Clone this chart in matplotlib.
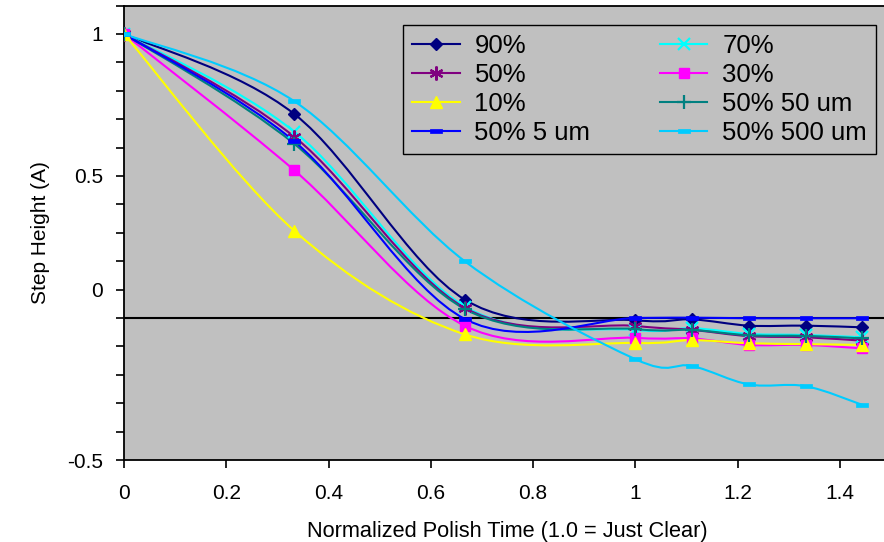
import numpy as np
import matplotlib
matplotlib.use("Agg")
import matplotlib.pyplot as plt
from matplotlib.path import Path
from matplotlib.patches import PathPatch
from matplotlib.lines import Line2D

plt.rcParams['font.family'] = ['Liberation Sans', 'DejaVu Sans']

# ---- data ----
polish_time = [0.0, 0.333, 0.667, 1.0, 1.111, 1.222, 1.333, 1.444]
pct90 = [1.0, 0.718, 0.064, -0.008, -0.005, -0.027, -0.027, -0.033]
pct70 = [1.0, 0.656, 0.040, -0.042, -0.036, -0.056, -0.060, -0.068]
pct50 = [1.0, 0.638, 0.035, -0.028, -0.042, -0.064, -0.068, -0.080]
pct30 = [1.0, 0.520, -0.028, -0.070, -0.072, -0.095, -0.095, -0.107]
pct10 = [1.0, 0.307, -0.058, -0.088, -0.078, -0.089, -0.092, -0.095]
pct50_50um = [1.0, 0.613, 0.031, -0.039, -0.042, -0.061, -0.063, -0.072]
pct50_5um = [1.0, 0.622, -0.004, 0.000, 0.001, -0.001, -0.001, -0.001]
pct50_500um = [1.0, 0.763, 0.199, -0.145, -0.169, -0.234, -0.240, -0.306]

series_labels = ["90%", "70%", "50%", "30%", "10%", "50% 50 um", "50% 5 um", "50% 500 um"]
x_ticks = [0, 0.2, 0.4, 0.6, 0.8, 1.0, 1.2, 1.4]
x_ticklabels = ["0", "0.2", "0.4", "0.6", "0.8", "1", "1.2", "1.4"]
y_label_pos = [1.0, 0.5, 0.1, -0.5]
y_label_txt = ["1", "0.5", "0", "-0.5"]

dash = Path([(-1, -0.3), (1, -0.3), (1, 0.3), (-1, 0.3), (-1, -0.3)],
            [Path.MOVETO, Path.LINETO, Path.LINETO, Path.LINETO, Path.CLOSEPOLY])

styles = [
    dict(color="#000080", marker="D", ms=6.5, mew=1),
    dict(color="#00FFFF", marker="x", ms=9, mew=1.6),
    dict(color="#800080", marker=(6, 2, 0), ms=10, mew=1.6),
    dict(color="#FF00FF", marker="s", ms=7.5, mew=1),
    dict(color="#FFFF00", marker="^", ms=8.5, mew=1),
    dict(color="#008080", marker="+", ms=10, mew=1.6),
    dict(color="#0000FF", marker=dash, ms=9, mew=0.5),
    dict(color="#00CCFF", marker=dash, ms=9, mew=0.5),
]
data = [pct90, pct70, pct50, pct30, pct10, pct50_50um, pct50_5um, pct50_500um]


def smooth_path(xs, ys):
    P = np.column_stack([xs, ys]).astype(float)
    n = len(P)
    verts = [P[0]]
    codes = [Path.MOVETO]
    for i in range(n - 1):
        p0 = P[i - 1] if i > 0 else P[i]
        p1 = P[i]
        p2 = P[i + 1]
        p3 = P[i + 2] if i + 2 < n else P[i + 1]
        c1 = p1 + (p2 - p0) / 6.0
        c2 = p2 - (p3 - p1) / 6.0
        verts += [c1, c2, p2]
        codes += [Path.CURVE4] * 3
    return Path(verts, codes)


fig = plt.figure(figsize=(8.84, 5.42), dpi=100)
ax = fig.add_axes([124 / 884, 1 - 460 / 542, 767 / 884, 454.5 / 542])
ax.set_facecolor("#C0C0C0")
ax.set_xlim(0, 1.5)
ax.set_ylim(-0.5, 1.1)

ax.axhline(0, color="black", lw=1.5, zorder=1.5)

handles = []
for ys, st, lab in zip(data, styles, series_labels):
    patch = PathPatch(smooth_path(polish_time, ys), facecolor="none",
                      edgecolor=st["color"], lw=1.5, zorder=2)
    ax.add_patch(patch)
    ax.plot(polish_time, ys, linestyle="none", marker=st["marker"],
            ms=st["ms"], mew=st["mew"], color=st["color"],
            mec=st["color"], mfc=st["color"], zorder=3)
    handles.append(Line2D([], [], color=st["color"], lw=1.5,
                          marker=st["marker"], ms=st["ms"], mew=st["mew"],
                          mfc=st["color"], mec=st["color"], label=lab))

ax.set_xticks(x_ticks)
ax.set_xticklabels(x_ticklabels)
yt = np.round(np.arange(-0.5, 1.101, 0.1), 2)
ax.set_yticks(yt)
ylabs = []
for v in yt:
    lab = ""
    for p, t in zip(y_label_pos, y_label_txt):
        if abs(p - v) < 1e-6:
            lab = t
    ylabs.append(lab)
ax.set_yticklabels(ylabs)
ax.tick_params(axis="both", direction="out", length=6, width=1.2,
               labelsize=15, color="black")
ax.tick_params(axis="y", pad=9)
ax.tick_params(axis="x", pad=11)

for s in ["left", "bottom", "top"]:
    ax.spines[s].set_linewidth(1.3)
    ax.spines[s].set_color("black")
ax.spines["right"].set_visible(False)

ax.set_xlabel("Normalized Polish Time (1.0 = Just Clear)", fontsize=15.7, labelpad=13)
ax.set_ylabel("Step Height (A)", fontsize=15, labelpad=12)

order = [0, 2, 4, 6, 1, 3, 5, 7]
leg = ax.legend([handles[i] for i in order], [series_labels[i] for i in order],
                ncol=2, loc="upper left",
                bbox_to_anchor=(403 / 884, 1 - 24.7 / 542),
                bbox_transform=fig.transFigure, fontsize=18.5, frameon=True,
                fancybox=False, edgecolor="black", facecolor="#C0C0C0",
                framealpha=1, handlelength=1.85, handletextpad=0.58,
                columnspacing=2.7, labelspacing=0.2, borderpad=0.35,
                borderaxespad=0)
leg.get_frame().set_linewidth(1.0)

fig.savefig("out.png", dpi=100)
